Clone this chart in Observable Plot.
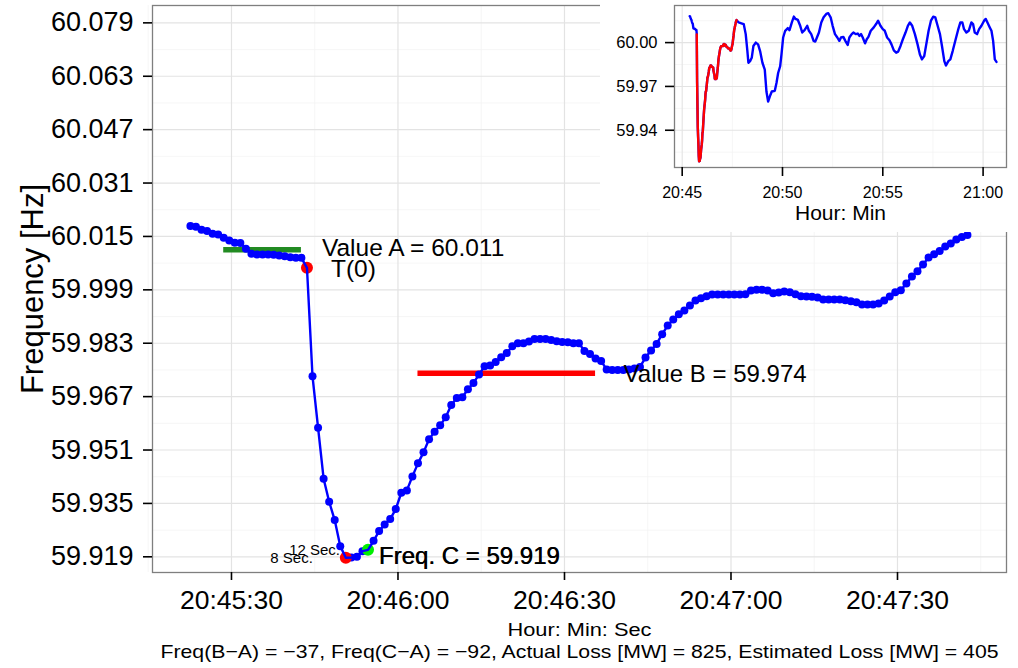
<!DOCTYPE html>
<html><head><meta charset="utf-8">
<script src="https://cdn.jsdelivr.net/npm/d3@7"></script>
<script src="https://cdn.jsdelivr.net/npm/@observablehq/plot@0.6"></script>
<style>
body{margin:0;background:#fff;}
#wrap{position:relative;width:1018px;height:668px;overflow:hidden;background:#fff;}
#inset{position:absolute;left:600px;top:0;}
</style></head><body><div id="wrap"><div id="main"></div><div id="inset"></div></div>
<script>
// ---- data ----
const startTime = "20:45:22.6";   // first 1-second sample
const freq = [
60.0181,60.0179,60.0170,60.0166,60.0158,60.0156,60.0146,60.0138,60.0131,60.0130,
60.0113,60.0098,60.0096,60.0096,60.0096,60.0095,60.0093,60.0091,60.0088,60.0086,
60.0086,60.0056,59.9731,59.9577,59.9424,59.9355,59.9300,59.9222,59.9187,59.9188,
59.9190,59.9207,59.9211,59.9238,59.9267,59.9287,59.9303,59.9333,59.9382,59.9389,
59.9431,59.9470,59.9503,59.9542,59.9565,59.9584,59.9608,59.9645,59.9666,59.9668,
59.9692,59.9711,59.9736,59.9761,59.9763,59.9774,59.9788,59.9801,59.9821,59.9830,
59.9830,59.9835,59.9843,59.9843,59.9843,59.9840,59.9836,59.9834,59.9833,59.9830,
59.9830,59.9807,59.9798,59.9784,59.9777,59.9751,59.9750,59.9750,59.9750,59.9751,
59.9754,59.9759,59.9787,59.9808,59.9828,59.9857,59.9883,59.9901,59.9917,59.9928,
59.9943,59.9958,59.9965,59.9971,59.9976,59.9976,59.9976,59.9976,59.9976,59.9976,
59.9977,59.9988,59.9990,59.9990,59.9988,59.9980,59.9982,59.9985,59.9983,59.9977,
59.9971,59.9970,59.9969,59.9967,59.9961,59.9961,59.9961,59.9961,59.9959,59.9956,
59.9953,59.9946,59.9946,59.9946,59.9949,59.9958,59.9970,59.9983,59.9989,60.0009,
60.0030,60.0046,60.0066,60.0087,60.0097,60.0106,60.0120,60.0129,60.0141,60.0148,
60.0154];

const laterTimes = ["20:47:49","20:47:57","20:48:04","20:48:10","20:48:15","20:48:18","20:48:23","20:48:28","20:48:33","20:48:40",
"20:48:47","20:48:53","20:49:00","20:49:07","20:49:12","20:49:17","20:49:22","20:49:28","20:49:37","20:49:42",
"20:49:47","20:49:53","20:49:57","20:50:02","20:50:08","20:50:16","20:50:21","20:50:28","20:50:34","20:50:39",
"20:50:46","20:50:53","20:50:59","20:51:06","20:51:14","20:51:19","20:51:26","20:51:33","20:51:38","20:51:43",
"20:51:49","20:51:56","20:52:03","20:52:11","20:52:17","20:52:24","20:52:30","20:52:37","20:52:44","20:52:50",
"20:52:55","20:53:02","20:53:08","20:53:15","20:53:20","20:53:27","20:53:32","20:53:39","20:53:45","20:53:50",
"20:53:55","20:54:00","20:54:07","20:54:12","20:54:17","20:54:24","20:54:33","20:54:40","20:54:46","20:54:53",
"20:55:00","20:55:06","20:55:13","20:55:20","20:55:26","20:55:33","20:55:40","20:55:46","20:55:53","20:56:00",
"20:56:08","20:56:15","20:56:21","20:56:28","20:56:36","20:56:44","20:56:51","20:56:57","20:57:04","20:57:10",
"20:57:17","20:57:24","20:57:31","20:57:37","20:57:44","20:57:51","20:57:57","20:58:04","20:58:09","20:58:16",
"20:58:22","20:58:29","20:58:38","20:58:45","20:58:52","20:58:58","20:59:03","20:59:10","20:59:17","20:59:25",
"20:59:30","20:59:35","20:59:42","20:59:48","20:59:55","21:00:03","21:00:08","21:00:13","21:00:20","21:00:25",
"21:00:30","21:00:35","21:00:40"];
const laterFreq = [60.0138,60.0132,60.0127,60.0058,59.9942,59.9862,59.9873,59.9896,59.9977,60.0000,
59.9988,59.9942,59.9862,59.9815,59.9665,59.9596,59.9631,59.9665,59.9670,59.9723,
59.9792,59.9838,59.9919,60.0035,60.0081,60.0099,60.0085,60.0138,60.0178,60.0162,
60.0155,60.0115,60.0069,60.0085,60.0115,60.0081,60.0058,60.0012,60.0007,60.0035,
60.0069,60.0138,60.0173,60.0196,60.0201,60.0173,60.0115,60.0058,60.0035,60.0012,
60.0035,60.0039,60.0012,59.9984,60.0035,60.0058,60.0069,60.0058,60.0062,60.0046,
60.0058,60.0035,59.9995,60.0023,60.0039,60.0081,60.0104,60.0127,60.0150,60.0115,
60.0092,60.0081,60.0035,60.0016,59.9988,59.9947,59.9931,59.9938,59.9977,60.0023,
60.0069,60.0115,60.0138,60.0115,60.0058,59.9988,59.9919,59.9885,59.9908,59.9988,
60.0081,60.0150,60.0178,60.0173,60.0115,60.0058,59.9977,59.9873,59.9843,59.9873,
59.9885,59.9942,60.0023,60.0085,60.0138,60.0138,60.0092,60.0069,60.0081,60.0138,
60.0127,60.0069,60.0058,60.0092,60.0115,60.0150,60.0162,60.0138,60.0104,60.0081,
60.0012,59.9885,59.9868];

const yTicks = [59.919,59.935,59.951,59.967,59.983,59.999,60.015,60.031,60.047,60.063,60.079];
const xTicks = ["20:45:30","20:46:00","20:46:30","20:47:00","20:47:30"];
const insetXTicks = ["20:45:00","20:50:00","20:55:00","21:00:00"];
const insetYTicks = [59.94, 59.97, 60.00];
const valueA = 60.011, valueB = 59.974, freqC = 59.919;
const idxT0 = 21, idxC = 28, idx12 = 32;
const windowA = [6, 20], windowB = [41, 73];
const captionText = "Freq(B\u2212A) = \u221237, Freq(C\u2212A) = \u221292, Actual Loss [MW] = 825, Estimated Loss [MW] = 405";

// ---- helpers ----
function toDate(s){const p=s.split(":");return new Date(Date.UTC(2015,0,1,+p[0],+p[1],0,Math.round(parseFloat(p[2])*1000)));}
const t0 = toDate(startTime).getTime();
const main = freq.map((v,i)=>({t:new Date(t0+i*1000), v}));
const n = Math.min(laterTimes.length, laterFreq.length);
const later = laterTimes.slice(0,n).map((s,i)=>({t:toDate(s), v:laterFreq[i]}));
const full = main.concat(later);
const redPart = main.slice(idxT0);
const mid = (a)=>a.slice(1).map((d,i)=>(d+a[i])/2);
const xMaj = xTicks.map(toDate);
const xMin = mid(xMaj.map(d=>d.getTime())).concat([xMaj[0].getTime()-15000, xMaj[xMaj.length-1].getTime()+15000]).map(d=>new Date(d));
const yMin = mid(yTicks);
const font = "'Liberation Sans', Arial, Helvetica, sans-serif";

const segA = [{x1:main[windowA[0]].t, x2:main[windowA[1]].t, y:valueA}];
const segB = [{x1:main[windowB[0]].t, x2:main[windowB[1]].t, y:valueB}];
const freqCLabel = [{t:main[idxC].t, v:freqC}];

const mainPlot = Plot.plot({
  width:1018, height:668,
  marginLeft:152, marginRight:12, marginTop:5, marginBottom:96,
  style:{fontFamily:font, background:"white", color:"black", overflow:"visible"},
  x:{type:"utc", domain:[toDate("20:45:15.77"), toDate("20:47:49.64")]},
  y:{domain:[59.9143, 60.0842]},
  marks:[
    Plot.gridX(xMin,{stroke:"#f2f2f2", strokeOpacity:1, strokeWidth:0.7}),
    Plot.gridY(yMin,{stroke:"#f2f2f2", strokeOpacity:1, strokeWidth:0.7}),
    Plot.gridX(xMaj,{stroke:"#e3e3e3", strokeOpacity:1, strokeWidth:1.2}),
    Plot.gridY(yTicks,{stroke:"#e3e3e3", strokeOpacity:1, strokeWidth:1.2}),
    Plot.frame({stroke:"#7f7f7f", strokeWidth:1.3}),
    Plot.axisX(xMaj,{tickFormat:d3.utcFormat("%H:%M:%S"), tickSize:8, tickPadding:10, fontSize:26.5, strokeWidth:1.6, label:null}),
    Plot.axisY(yTicks,{tickFormat:d3.format(".3f"), tickSize:9, tickPadding:10, fontSize:27, strokeWidth:1.6, label:null}),
    Plot.ruleY(segA,{x1:"x1", x2:"x2", y:"y", stroke:"#228B22", strokeWidth:5.5}),
    Plot.ruleY(segB,{x1:"x1", x2:"x2", y:"y", stroke:"#ff0000", strokeWidth:5.5}),
    Plot.dot(main,{x:"t", y:"v", r:4, fill:"#0000ff"}),
    Plot.dot([main[idxT0], main[idxC]],{x:"t", y:"v", r:6, fill:"#ff0000"}),
    Plot.dot([main[idx12]],{x:"t", y:"v", r:6, fill:"#00ee00"}),
    Plot.line(main,{x:"t", y:"v", stroke:"#0000ff", strokeWidth:2.4}),
    Plot.text([{t:main[idxT0].t, v:valueA}],{x:"t", y:"v", text:()=>`Value A = ${valueA.toFixed(3)}`, dx:15, dy:-2, textAnchor:"start", fontSize:24.5}),
    Plot.text([main[idxT0]],{x:"t", y:"v", text:()=>"T(0)", dx:24, dy:1, textAnchor:"start", fontSize:24.5}),
    Plot.text([{t:segB[0].x2, v:valueB}],{x:"t", y:"v", text:()=>`Value B = ${valueB.toFixed(3)}`, dx:28, dy:1, textAnchor:"start", fontSize:24}),
    Plot.text(freqCLabel,{x:"t", y:"v", text:()=>`Freq. C = ${freqC.toFixed(3)}`, dx:33, dy:-1, textAnchor:"start", fontSize:24, fill:"black"}),
    Plot.text(freqCLabel,{x:"t", y:"v", text:()=>`Freq. C = ${freqC.toFixed(3)}`, dx:33.5, dy:-1, textAnchor:"start", fontSize:24, fill:"black"}),
    Plot.text([main[idxC]],{x:"t", y:"v", text:()=>"8 Sec.", dx:-33, dy:0, textAnchor:"end", fontSize:15}),
    Plot.text([main[idx12]],{x:"t", y:"v", text:()=>"12 Sec.", dx:-28, dy:0, textAnchor:"end", fontSize:15}),
    Plot.text(["Frequency [Hz]"],{text:d=>d, frameAnchor:"left", textAnchor:"middle", dx:-119, rotate:-90, fontSize:31}),
    Plot.text(["Hour: Min: Sec"],{text:d=>d, frameAnchor:"bottom", dy:63, fontSize:18, className:"xlab"}),
    Plot.text([captionText],{text:d=>d, frameAnchor:"bottom", dy:85, fontSize:18.5, className:"capt"})
  ]
});
document.getElementById("main").appendChild(mainPlot);
// stretch the two bottom texts to the reference widths
mainPlot.querySelectorAll(".xlab text").forEach(t=>{t.setAttribute("textLength","144");t.setAttribute("lengthAdjust","spacingAndGlyphs");});
mainPlot.querySelectorAll(".capt text").forEach(t=>{t.setAttribute("textLength","838");t.setAttribute("lengthAdjust","spacingAndGlyphs");});

const ixMaj = insetXTicks.map(toDate);
const ixMin = ["20:47:30","20:52:30","20:57:30"].map(toDate);
const iyMin = [59.925, 59.955, 59.985, 60.015];
const insetPlot = Plot.plot({
  width:418, height:232,
  marginLeft:74, marginRight:12, marginTop:5, marginBottom:65,
  style:{fontFamily:font, background:"white", color:"black", overflow:"visible"},
  x:{type:"utc", domain:[toDate("20:44:37"), toDate("21:01:10")]},
  y:{domain:[59.9145, 60.0254]},
  marks:[
    Plot.gridX(ixMin,{stroke:"#f2f2f2", strokeOpacity:1, strokeWidth:0.7}),
    Plot.gridY(iyMin,{stroke:"#f2f2f2", strokeOpacity:1, strokeWidth:0.7}),
    Plot.gridX(ixMaj,{stroke:"#e3e3e3", strokeOpacity:1, strokeWidth:1.1}),
    Plot.gridY(insetYTicks,{stroke:"#e3e3e3", strokeOpacity:1, strokeWidth:1.1}),
    Plot.frame({stroke:"#7f7f7f", strokeWidth:1.3}),
    Plot.axisX(ixMaj,{tickFormat:d3.utcFormat("%H:%M"), tickSize:9, tickPadding:10, fontSize:16, strokeWidth:1.6, label:null}),
    Plot.axisY(insetYTicks,{tickFormat:d3.format(".2f"), tickSize:9, tickPadding:8, fontSize:16.5, strokeWidth:1.6, label:null}),
    Plot.line(full,{x:"t", y:"v", stroke:"#0000ff", strokeWidth:2.4}),
    Plot.line(redPart,{x:"t", y:"v", stroke:"#ff0000", strokeWidth:2.4}),
    Plot.text(["Hour: Min"],{text:d=>d, frameAnchor:"bottom", dy:52, fontSize:21})
  ]
});
document.getElementById("inset").appendChild(insetPlot);
</script></body></html>
